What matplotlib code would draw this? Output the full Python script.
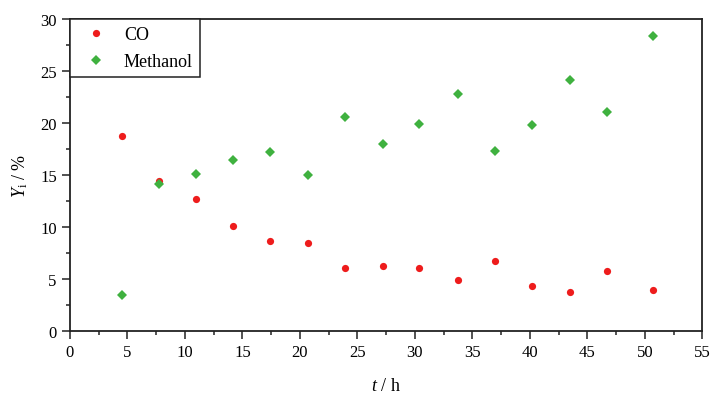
import matplotlib
matplotlib.use("Agg")
import matplotlib.pyplot as plt
from matplotlib.ticker import MultipleLocator

plt.rcParams['font.family'] = ['Liberation Serif', 'DejaVu Serif']
plt.rcParams['mathtext.fontset'] = 'custom'
plt.rcParams['mathtext.rm'] = 'Liberation Serif'
plt.rcParams['mathtext.it'] = 'Liberation Serif:italic'

t_h = [4.5, 7.7, 11.0, 14.2, 17.4, 20.7, 23.9, 27.2, 30.4, 33.75, 36.95, 40.2, 43.5, 46.7, 50.7]
co = [18.72, 14.42, 12.66, 10.07, 8.62, 8.43, 6.03, 6.22, 6.03, 4.94, 6.73, 4.30, 3.78, 5.74, 3.97]
methanol = [3.46, 14.1, 15.07, 16.41, 17.24, 14.97, 20.58, 18.0, 19.87, 22.82, 17.31, 19.81, 24.13, 21.06, 28.39]

fig = plt.figure(figsize=(7.12, 4.02), dpi=100)
ax = fig.add_axes([0.0983, 0.174, 0.888, 0.776])

ax.plot(t_h, co, linestyle='none', marker='o', markersize=5.2, color='#ee1c1c',
        markeredgewidth=0, label='CO')
ax.plot(t_h, methanol, linestyle='none', marker='D', markersize=5.5, color='#3fb13f',
        markeredgewidth=0, label='Methanol')

ax.set_xlim(0, 55)
ax.set_ylim(0, 30)
ax.xaxis.set_major_locator(MultipleLocator(5))
ax.xaxis.set_minor_locator(MultipleLocator(2.5))
ax.yaxis.set_major_locator(MultipleLocator(5))
ax.yaxis.set_minor_locator(MultipleLocator(2.5))
ax.tick_params(which='both', direction='out', top=False, right=False, width=1.1, color='#222222')
ax.tick_params(which='major', length=5.5, labelsize=12, pad=4)
ax.tick_params(which='minor', length=2.8)
for s in ax.spines.values():
    s.set_linewidth(1.3)
    s.set_color('#222222')

ax.set_xlabel('$\\mathit{t}$ / h', fontsize=13, labelpad=12)
ax.set_ylabel('$\\mathit{Y}_{\\mathrm{i}}$ / %', fontsize=13, labelpad=7)

leg = ax.legend(loc='upper left', borderaxespad=0, fancybox=False, edgecolor='#222222',
                fontsize=13, handletextpad=0.51, borderpad=0.4, labelspacing=0.55,
                handlelength=2.08, framealpha=1)
leg.get_frame().set_linewidth(1.1)

fig.savefig('out.png', dpi=100)
